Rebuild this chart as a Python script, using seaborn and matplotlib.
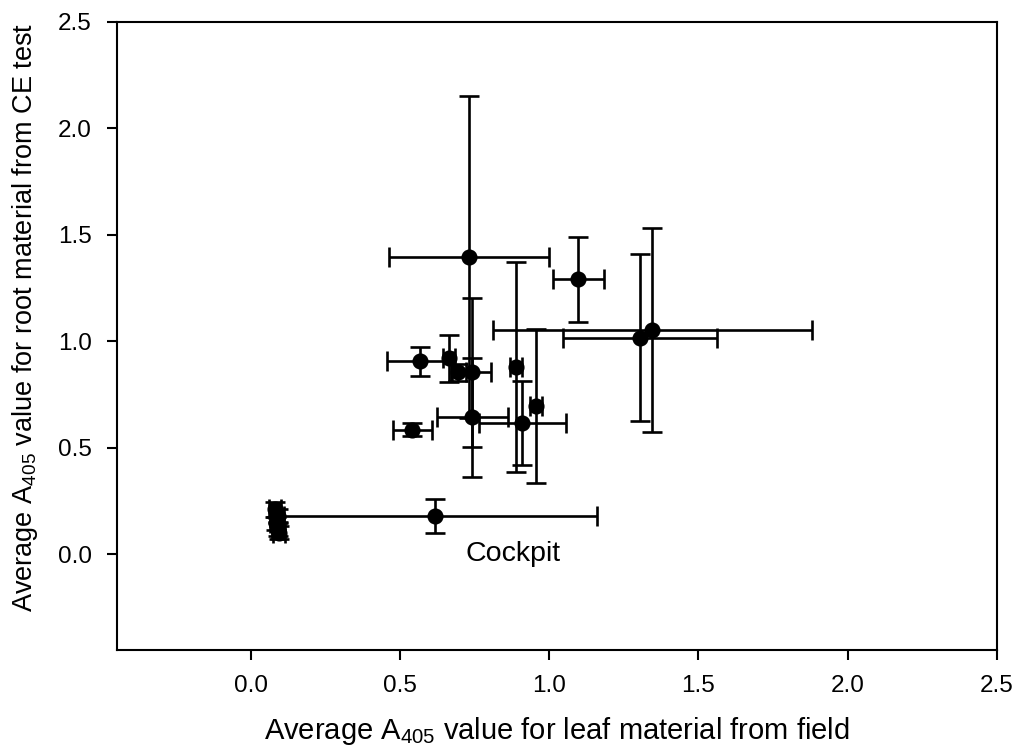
import matplotlib
matplotlib.use("Agg")
import matplotlib.pyplot as plt
import seaborn as sns
import numpy as np
import pandas as pd

# Mean absorbance (A405) per sample: leaf material from field vs root material from CE test
leaf_mean = [0.730, 1.097, 1.303, 1.345, 0.890, 0.910, 0.954, 0.742, 0.740, 0.695,
             0.665, 0.566, 0.541, 0.616, 0.080, 0.090, 0.085, 0.090, 0.095]
root_mean = [1.395, 1.290, 1.016, 1.054, 0.878, 0.614, 0.695, 0.643, 0.855, 0.855,
             0.920, 0.905, 0.585, 0.178, 0.210, 0.180, 0.145, 0.115, 0.100]
leaf_err = [0.268, 0.085, 0.258, 0.535, 0.020, 0.145, 0.020, 0.120, 0.065, 0.025,
            0.020, 0.110, 0.066, 0.543, 0.020, 0.020, 0.020, 0.020, 0.020]
root_err = [0.755, 0.200, 0.393, 0.480, 0.494, 0.197, 0.362, 0.280, 0.350, 0.040,
            0.110, 0.068, 0.030, 0.080, 0.035, 0.030, 0.030, 0.030, 0.030]

x_ticks = [0.0, 0.5, 1.0, 1.5, 2.0, 2.5]
y_ticks = [0.0, 0.5, 1.0, 1.5, 2.0, 2.5]
x_label = r"Average A$_{405}$ value for leaf material from field"
y_label = r"Average A$_{405}$ value for root material from CE test"
note_text = "Cockpit"

sns.set_style("ticks")
plt.rcParams["font.family"] = ["Liberation Sans", "DejaVu Sans"]
plt.rcParams["mathtext.default"] = "regular"
plt.rcParams["text.color"] = "black"
plt.rcParams["axes.labelcolor"] = "black"

df = pd.DataFrame({"leaf": leaf_mean, "root": root_mean,
                   "leaf_err": leaf_err, "root_err": root_err})

fig = plt.figure(figsize=(10.15, 7.54), dpi=100)
ax = fig.add_axes([0.115, 0.138, 0.867, 0.833])

ax.errorbar(df["leaf"], df["root"], xerr=df["leaf_err"], yerr=df["root_err"],
            fmt="none", ecolor="black", elinewidth=1.9, capsize=7, capthick=1.9,
            zorder=2)
sns.scatterplot(data=df, x="leaf", y="root", ax=ax, color="black", s=135,
                edgecolor="black", linewidth=0, zorder=3, legend=False)

ax.set_xlim(-0.45, 2.5)
ax.set_ylim(-0.45, 2.5)
ax.set_xticks(x_ticks)
ax.set_yticks(y_ticks)
ax.set_xticklabels([f"{v:.1f}" for v in x_ticks])
ax.set_yticklabels([f"{v:.1f}" for v in y_ticks])
ax.tick_params(axis="both", direction="out", length=7, width=1.5,
               labelsize=17.5, pad=11, colors="black")

for side in ["left", "right", "top", "bottom"]:
    ax.spines[side].set_visible(True)
    ax.spines[side].set_linewidth(1.5)
    ax.spines[side].set_color("black")

ax.set_xlabel(x_label, fontsize=21, labelpad=13)
ax.set_ylabel(y_label, fontsize=19.5)
ax.yaxis.set_label_coords(-0.087, 0.53)

ax.text(0.72, 0.0, note_text, fontsize=20.5, ha="left", va="center")

fig.savefig("out.png", dpi=100, facecolor="white")
